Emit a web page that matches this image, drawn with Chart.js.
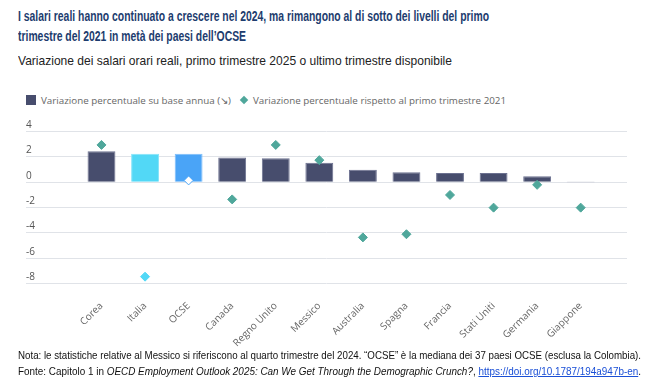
<!DOCTYPE html>
<html lang="it">
<head>
<meta charset="utf-8">
<script src="https://cdn.jsdelivr.net/npm/chart.js@4.4.1/dist/chart.umd.min.js"></script>
<style>
  html, body { margin: 0; padding: 0; background: #fff; }
  body { width: 655px; height: 388px; position: relative; overflow: hidden; font-family: "Liberation Sans", Arial, sans-serif; }
  .fit { display: inline-block; white-space: nowrap; transform-origin: 0 0; }
  #title { position: absolute; left: 18px; top: 6px; font-size: 14.5px; line-height: 20px; font-weight: bold; color: #1d3c6e; }
  #subtitle { position: absolute; left: 18px; top: 53px; font-size: 13px; line-height: 16px; color: #222; }
  #legend { position: absolute; left: 26px; top: 93px; height: 14px; font-family: "Open Sans", sans-serif; font-size: 9.8px; color: #666; white-space: nowrap; }
  #legend span { display: inline-block; vertical-align: middle; }
  .sq { width: 10px; height: 10px; background: #474d6d; margin-right: 5px; }
  .dia { width: 6px; height: 6px; background: #4fa79b; transform: rotate(45deg); margin: 0 6px 0 10px; }
  #chartBox { position: absolute; left: 0; top: 110px; width: 655px; height: 240px; }
  #notes { position: absolute; left: 18px; top: 347px; font-size: 11px; line-height: 16px; color: #111; }
  #notes a { color: #1a4fd6; text-decoration: underline; }
</style>
</head>
<body>
<div id="title"><div class="fit" data-w="471">I salari reali hanno continuato a crescere nel 2024, ma rimangono al di sotto dei livelli del primo</div><br><div class="fit" data-same="1">trimestre del 2021 in metà dei paesi dell’OCSE</div></div>
<div id="subtitle"><div class="fit" data-w="434">Variazione dei salari orari reali, primo trimestre 2025 o ultimo trimestre disponibile</div></div>
<div id="legend"><span class="sq"></span><span>Variazione percentuale su base annua (↘)</span><span class="dia"></span><span>Variazione percentuale rispetto al primo trimestre 2021</span></div>
<div id="chartBox"><canvas id="wageChart" width="655" height="240"></canvas></div>
<div id="notes"><div class="fit" data-w="623">Nota: le statistiche relative al Messico si riferiscono al quarto trimestre del 2024. “OCSE” è la mediana dei 37 paesi OCSE (esclusa la Colombia).</div><br><div class="fit" data-w="623">Fonte: Capitolo 1 in <i>OECD Employment Outlook 2025: Can We Get Through the Demographic Crunch?</i>, <a>https://doi.org/10.1787/194a947b-en</a>.</div></div>

<script>
// squeeze the text lines to the widths of the (narrow-font) original
let lastScale = 1;
document.querySelectorAll('.fit').forEach(el => {
    let s = lastScale;
    if (el.dataset.w) s = Number(el.dataset.w) / el.getBoundingClientRect().width;
    el.style.transform = 'scaleX(' + s + ')';
    lastScale = s;
});

// --- data ---
const countries = ['Corea', 'Italia', 'OCSE', 'Canada', 'Regno Unito', 'Messico', 'Australia', 'Spagna', 'Francia', 'Stati Uniti', 'Germania', 'Giappone'];
const annualChange = [2.4, 2.2, 2.2, 1.9, 1.85, 1.5, 0.95, 0.74, 0.68, 0.68, 0.42, -0.05];
const sinceQ1_2021 = [2.9, -7.5, 0.1, -1.4, 2.9, 1.7, -4.4, -4.15, -1.05, -2.05, -0.25, -2.05];
const yTicks = [-8, -6, -4, -2, 0, 2, 4];

// colours: Italia and OCSE are highlighted
const navy = '#474d6d';
const teal = '#4fa79b';
const cyan = '#52d8f6';
const blue = '#4aa4f7';

const barFill = countries.map(c => c === 'Italia' ? cyan : (c === 'OCSE' ? blue : navy));
const barEdge = countries.map(c => c === 'Italia' ? '#86e4f9' : (c === 'OCSE' ? '#7dbdf9' : '#6c7190'));
const dotFill = countries.map(c => c === 'Italia' ? cyan : (c === 'OCSE' ? '#ffffff' : teal));
const dotEdge = countries.map(c => c === 'Italia' ? cyan : (c === 'OCSE' ? blue : teal));

// horizontal grid lines run wider than the plot area in the original
const wideGrid = {
    id: 'wideGrid',
    beforeDatasetsDraw(chart) {
        const y = chart.scales.y;
        const ctx = chart.ctx;
        ctx.save();
        ctx.strokeStyle = '#e0e3e8';
        ctx.lineWidth = 1;
        y.ticks.forEach(t => {
            const py = Math.round(y.getPixelForValue(t.value)) + 0.5;
            ctx.beginPath();
            ctx.moveTo(26, py);
            ctx.lineTo(627, py);
            ctx.stroke();
        });
        ctx.restore();
    }
};

const ctx = document.getElementById('wageChart').getContext('2d');
new Chart(ctx, {
    type: 'bar',
    data: {
        labels: countries,
        datasets: [
            {
                type: 'line',
                label: 'Variazione percentuale rispetto al primo trimestre 2021',
                data: sinceQ1_2021,
                showLine: false,
                pointStyle: 'rectRot',
                pointRadius: 4.5,
                pointHoverRadius: 4.5,
                pointBackgroundColor: dotFill,
                pointBorderColor: dotEdge,
                pointBorderWidth: 1,
                order: 0
            },
            {
                label: 'Variazione percentuale su base annua',
                data: annualChange,
                backgroundColor: barFill,
                borderColor: barEdge,
                borderWidth: 1,
                barPercentage: 0.64,
                categoryPercentage: 1,
                order: 1
            }
        ]
    },
    options: {
        responsive: false,
        animation: false,
        layout: { padding: { top: 21, left: 26, right: 52.5, bottom: 0 } },
        scales: {
            y: {
                min: -8,
                max: 4,
                afterBuildTicks: (scale) => { scale.ticks = yTicks.map(v => ({ value: v })); },
                afterFit: (scale) => { scale.width = 53.7; },
                grid: { display: false },
                border: { display: false },
                ticks: {
                    crossAlign: 'far',
                    labelOffset: -6,
                    color: '#555',
                    font: { family: 'Open Sans', size: 10 }
                }
            },
            x: {
                offset: true,
                afterFit: (scale) => { scale.height = 67; },
                grid: { display: false },
                border: { display: false },
                ticks: {
                    minRotation: 45,
                    maxRotation: 45,
                    padding: 9,
                    color: '#666',
                    font: { family: 'Open Sans', size: 10 }
                }
            }
        },
        plugins: {
            legend: { display: false },
            tooltip: { enabled: false }
        }
    },
    plugins: [wideGrid]
});
</script>
</body>
</html>
